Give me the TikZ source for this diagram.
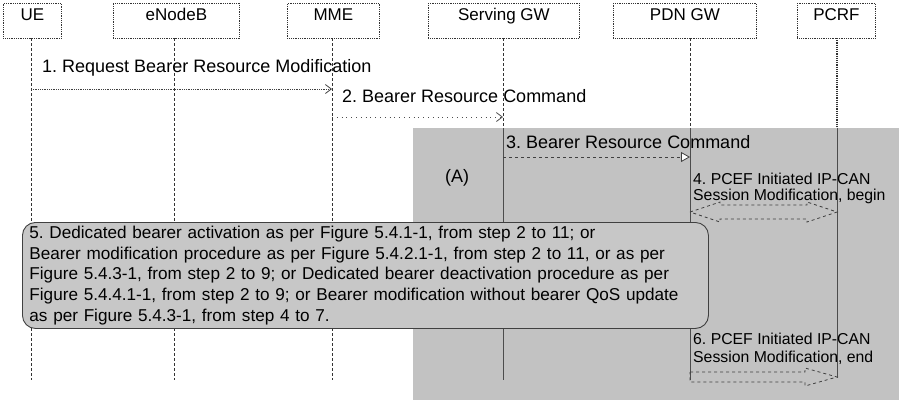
\documentclass[tikz,border=0pt]{standalone}
\usepackage{fontspec}
\setmainfont{Liberation Sans}
\usetikzlibrary{arrows.meta,calc}
\definecolor{regiongray}{gray}{0.76}
\definecolor{boxgray}{gray}{0.78}
\begin{document}
\frenchspacing
\begin{tikzpicture}[x=1pt,y=-1pt,
  hdr/.style={draw=black!80, densely dotted, line width=0.8pt, fill=white,
    minimum height=35pt, inner xsep=0pt, inner ysep=2.5pt,
    text height=14.5pt, text depth=15.5pt, anchor=north west,
    font=\fontsize{17}{20}\selectfont},
  life/.style={draw=black!80, densely dashed, line width=0.6pt},
  lifeg/.style={draw=black!70, line width=0.8pt},
  msg/.style={font=\fontsize{18}{20}\selectfont, anchor=base west, inner sep=0pt},
  note/.style={font=\fontsize{15.8}{16}\selectfont, align=left, anchor=north west, inner sep=0pt},
]
\useasboundingbox (0,0) rectangle (907,400);
\fill[white] (0,0) rectangle (907,400);
% shaded region
\fill[regiongray] (413,128) rectangle (899,400);

% header boxes
\node[hdr, minimum width=58pt]  (ue)   at (3,3)   {UE};
\node[hdr, minimum width=126pt] (enb)  at (113,3) {eNodeB};
\node[hdr, minimum width=92pt]  (mme)  at (287,3) {MME};
\node[hdr, minimum width=151pt] (sgw)  at (428,3) {Serving GW};
\node[hdr, minimum width=143pt] (pgw)  at (613,3) {PDN GW};
\node[hdr, minimum width=78pt]  (pcrf) at (797,3) {PCRF};

% lifeline coordinates
\coordinate (Lue)  at (31,38);   \coordinate (Eue)  at (31,380);
\coordinate (Lenb) at (174,38);  \coordinate (Eenb) at (174,380);
\coordinate (Lmme) at (332,38);  \coordinate (Emme) at (332,380);
\coordinate (Lsgw) at (503,38);  \coordinate (Gsgw) at (503,128); \coordinate (Esgw) at (503,380);
\coordinate (Lpgw) at (690,38);  \coordinate (Gpgw) at (690,128); \coordinate (Epgw) at (690,380);
\coordinate (Lpcrf) at (837,38); \coordinate (Gpcrf) at (837,128); \coordinate (Epcrf) at (837,378);

\draw[life] (Lue) -- (Eue);
\draw[life] (Lenb) -- (Eenb);
\draw[life] (Lmme) -- (Emme);
\draw[life] (Lsgw) -- (Gsgw);
\draw[life] (Lpgw) -- (Gpgw);
\draw[draw=black!80, densely dotted, line width=1.2pt] (Lpcrf) -- (Gpcrf);
\draw[lifeg] (Gsgw) -- (Esgw);
\draw[lifeg] (Gpgw) -- (Epgw);
\draw[lifeg] (Gpcrf) -- (Epcrf);

% message 1
\node[msg] (t1) at (42,72) {1. Request Bearer Resource Modification};
\coordinate (m1s) at (31,89); \coordinate (m1e) at (332,89);
\draw[black!75, densely dotted, line width=0.8pt, -{Straight Barb[length=6pt,width=9pt]}] (m1s) -- (m1e);

% message 2
\node[msg] (t2) at (342,102) {2. Bearer Resource Command};
\coordinate (m2s) at (332,117); \coordinate (m2e) at (503,117);
\draw[black!70, loosely dotted, line width=0.8pt, -{Straight Barb[length=6pt,width=9pt]}] (m2s) -- (m2e);

% message 3
\node[msg] (t3) at (506,148) {3. Bearer Resource Command};
\coordinate (m3s) at (503,157); \coordinate (m3e) at (690,157);
\draw[black!75, dashed, line width=0.8pt, -{Triangle[open, fill=white, length=9pt, width=10pt]}] (m3s) -- (m3e);

% (A)
\node[msg, anchor=base] (tA) at (457,182) {(A)};

% step 4
\node[note] (t4) at (693,173) {4. PCEF Initiated IP-CAN\\Session Modification, begin};
\coordinate (a4l) at (690,212); \coordinate (a4r) at (837,212);
\draw[black!75, dashed, line width=0.8pt]
  (a4l) -- ($(a4l)+(30,-10)$) -- ($(a4l)+(30,-7)$) -- ($(a4r)+(-30,-7)$) -- ($(a4r)+(-30,-10)$)
  -- (a4r) -- ($(a4r)+(-30,10)$) -- ($(a4r)+(-30,7)$) -- ($(a4l)+(30,7)$) -- ($(a4l)+(30,10)$) -- cycle;

% step 5 box
\node[draw=black!75, line width=0.9pt, fill=boxgray, rounded corners=13pt,
  minimum width=686pt, minimum height=106pt, anchor=north west,
  text width=672pt, align=left, inner xsep=0pt,
  font=\fontsize{17.15}{20.7}\selectfont] (b5) at (22,222)
  {5. Dedicated bearer activation as per Figure 5.4.1-1, from step 2 to 11; or\\
   Bearer modification procedure as per Figure 5.4.2.1-1, from step 2 to 11, or as per\\
   Figure 5.4.3-1, from step 2 to 9; or Dedicated bearer deactivation procedure as per\\
   Figure 5.4.4.1-1, from step 2 to 9; or Bearer modification without bearer QoS update\\
   as per Figure 5.4.3-1, from step 4 to 7.};

% step 6
\node[note, font=\fontsize{15.8}{18}\selectfont] (t6) at (693,333) {6. PCEF Initiated IP-CAN\\Session Modification, end};
\coordinate (a6l) at (690,377); \coordinate (a6r) at (837,377);
\draw[black!75, dashed, line width=0.8pt]
  ($(a6l)+(0,-5)$) -- ($(a6r)+(-32,-5)$) -- ($(a6r)+(-32,-9)$) -- (a6r)
  -- ($(a6r)+(-32,9)$) -- ($(a6r)+(-32,5)$) -- ($(a6l)+(0,5)$) -- cycle;
\end{tikzpicture}
\end{document}
